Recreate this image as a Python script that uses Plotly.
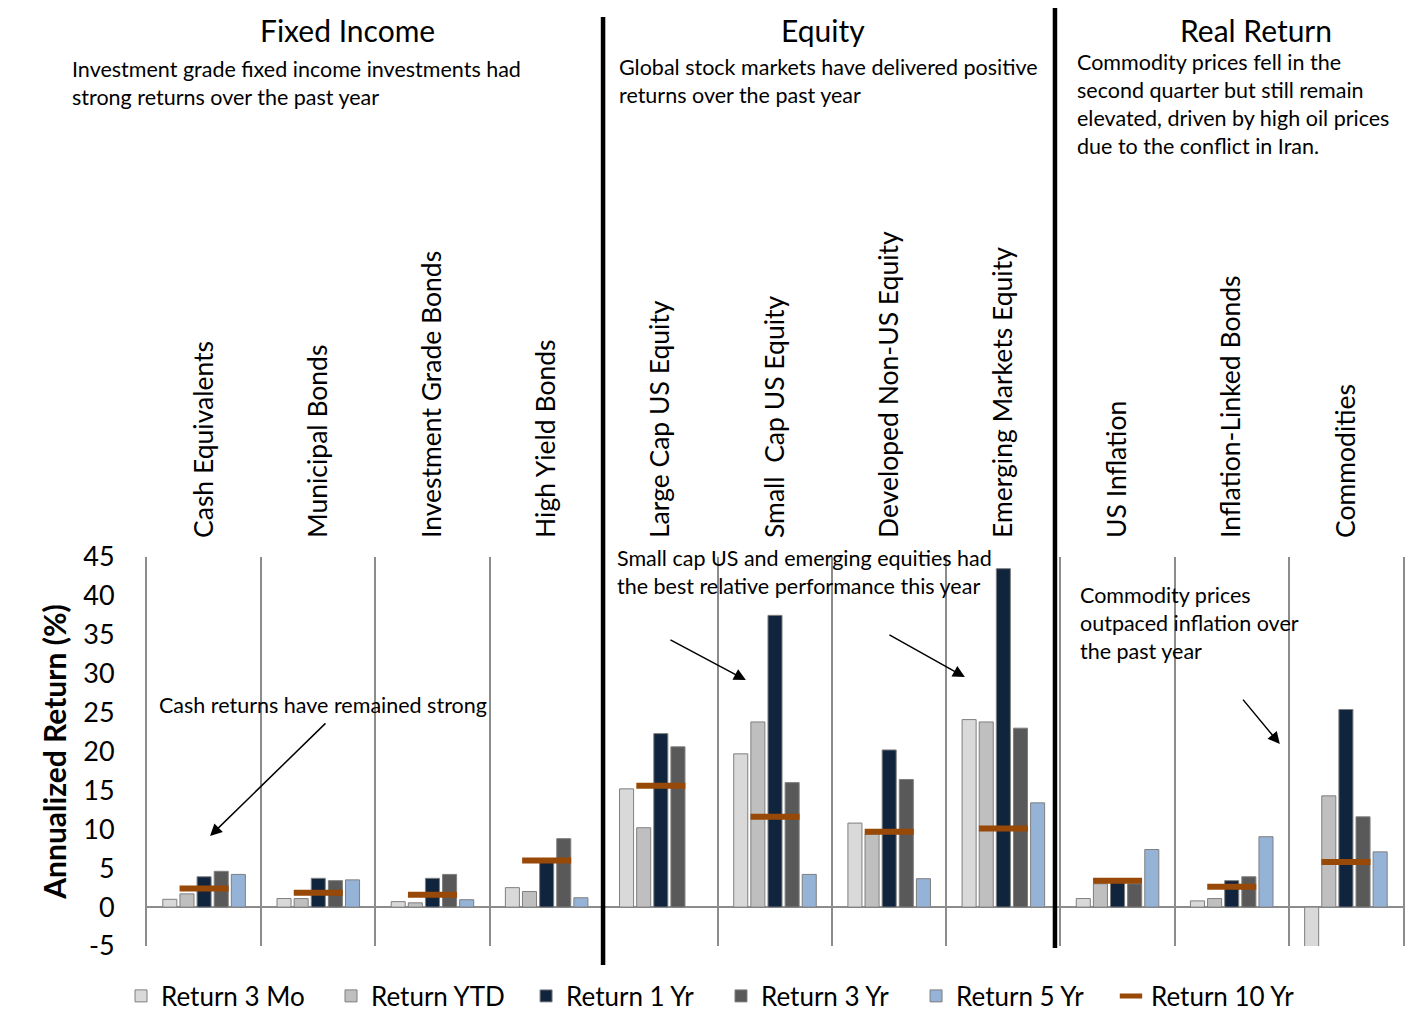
import plotly.graph_objects as go

# categories (asset classes) and returns (%)
categories = ["Cash Equivalents", "Municipal Bonds", "Investment Grade Bonds", "High Yield Bonds",
              "Large Cap US Equity", "Small  Cap US Equity", "Developed Non-US Equity",
              "Emerging Markets Equity", "US Inflation", "Inflation-Linked Bonds", "Commodities"]

ret_3mo = [1.0, 1.1, 0.7, 2.5, 15.2, 19.7, 10.8, 24.1, 1.1, 0.8, -6.0]
ret_ytd = [1.7, 1.1, 0.55, 2.0, 10.2, 23.8, 9.4, 23.8, 3.0, 1.1, 14.3]
ret_1yr = [3.9, 3.7, 3.7, 5.8, 22.3, 37.5, 20.2, 43.5, 3.3, 3.4, 25.4]
ret_3yr = [4.6, 3.4, 4.2, 8.8, 20.6, 16.0, 16.4, 23.0, 3.0, 3.9, 11.6]
ret_5yr = [4.2, 3.5, 0.95, 1.2, None, 4.2, 3.65, 13.4, 7.4, 9.05, 7.1]
ret_10yr = [2.4, 1.85, 1.6, 6.0, 15.6, 11.6, 9.7, 10.1, 3.4, 2.6, 5.8]

y_ticks = [-5, 0, 5, 10, 15, 20, 25, 30, 35, 40, 45]
y_tick_labels = ["-5", "0", "5", "10", "15", "20", "25", "30", "35", "40", "45"]

FONT = "Lato"
pos = list(range(len(categories)))

fig = go.Figure()

# each series gets its own one-item legend so the entries sit where the original has them
legend_x = [-0.0207, 0.1465, 0.3018, 0.4570, 0.6123, 0.7675]
legend_ids = ["legend", "legend2", "legend3", "legend4", "legend5", "legend6"]

bar_series = [
    ("Return 3 Mo", ret_3mo, "#D9D9D9"),
    ("Return YTD", ret_ytd, "#BFBFBF"),
    ("Return 1 Yr", ret_1yr, "#10243E"),
    ("Return 3 Yr", ret_3yr, "#595959"),
    ("Return 5 Yr", ret_5yr, "#95B3D7"),
]
for i, (name, vals, col) in enumerate(bar_series):
    fig.add_trace(go.Bar(x=pos, y=vals, name=name, legend=legend_ids[i],
                         marker=dict(color=col, line=dict(color="#7F7F7F", width=1))))

fig.add_trace(go.Scatter(x=pos, y=ret_10yr, name="Return 10 Yr", mode="markers",
                         legend=legend_ids[5],
                         marker=dict(symbol="line-ew", size=35,
                                     line=dict(color="#984807", width=6))))

# thick black separators between sections
for x0, ytop, ybot in [(0.3631, 2.388, -0.049), (0.7229, 2.432, -0.005)]:
    fig.add_shape(type="line", xref="paper", yref="paper", x0=x0, x1=x0, y0=ybot, y1=ytop,
                  line=dict(color="black", width=4.5))

# section headings and notes
heads = [("Fixed Income", 0.160), ("Equity", 0.538), ("Real Return", 0.883)]
for txt, xp in heads:
    fig.add_annotation(text=txt, xref="paper", yref="paper", x=xp, y=2.355,
                       xanchor="center", yanchor="middle", showarrow=False,
                       font=dict(size=30, color="black"))

notes = [
    ("Investment grade fixed income investments had<br>strong returns over the past year", -0.0613, 2.293),
    ("Global stock markets have delivered positive<br>returns over the past year", 0.3742, 2.298),
    ("Commodity prices fell in the<br>second quarter but still remain<br>elevated, driven by high oil prices<br>due to the conflict in Iran.", 0.7389, 2.31),
    ("Small cap US and emerging equities had<br>the best relative performance this year", 0.3726, 1.036),
    ("Commodity prices<br>outpaced inflation over<br>the past year", 0.7412, 0.941),
]
for txt, xp, yp in notes:
    fig.add_annotation(text=txt, xref="paper", yref="paper", x=xp, y=yp, xanchor="left",
                       yanchor="top", align="left", showarrow=False,
                       font=dict(size=21.5, color="black"))

fig.add_annotation(text="Cash returns have remained strong", xref="paper", yref="paper",
                   x=0.008, y=0.6195, xanchor="left", yanchor="middle", showarrow=False,
                   font=dict(size=21.5, color="black"))

# arrows (head x, head y, tail x, tail y) in data units
arrows = [(0.052, 9.13, 1.076, 23.8), (4.745, 29.18, 4.071, 34.45),
          (6.663, 29.56, 5.989, 35.09), (9.421, 20.95, 9.088, 26.86)]
for hx, hy, tx, ty in arrows:
    fig.add_annotation(text="", x=hx, y=hy, ax=tx, ay=ty, xref="x", yref="y",
                       axref="x", ayref="y", showarrow=True, arrowhead=2, arrowsize=1.6,
                       arrowwidth=1.5, arrowcolor="black", standoff=0, startstandoff=0)

boundaries = [i - 0.5 for i in range(len(categories) + 1)]

legend_style = dict(orientation="h", xanchor="left", y=-0.1285, yanchor="middle",
                    font=dict(size=26), bgcolor="rgba(0,0,0,0)")
legends = {lid: dict(legend_style, x=lx) for lid, lx in zip(legend_ids, legend_x)}

fig.update_layout(
    width=1422, height=1033,
    margin=dict(l=139, r=27, t=549, b=95),
    paper_bgcolor="white", plot_bgcolor="white",
    font=dict(family=FONT, color="black"),
    barmode="group", bargap=0.25, bargroupgap=0.18,
    showlegend=True,
    xaxis=dict(range=[-0.5, 10.5], side="top", tickvals=pos, ticktext=categories,
               tickangle=-90, tickfont=dict(size=26.5), ticks="", ticklabelstandoff=18,
               showgrid=False, zeroline=False, showline=False,
               minor=dict(tickvals=boundaries, showgrid=True, gridcolor="#8C8C8C",
                          gridwidth=2, ticks="")),
    yaxis=dict(range=[-5, 45], tickvals=y_ticks, ticktext=y_tick_labels,
               tickfont=dict(size=27), showgrid=False,
               zeroline=True, zerolinecolor="#8C8C8C", zerolinewidth=2,
               showline=True, linecolor="#8C8C8C", linewidth=2, mirror=True,
               ticklabelstandoff=25,
               title=dict(text="<b>Annualized Return (%)</b>", font=dict(size=30), standoff=8)),
    **legends,
)

fig.write_html("out.html")
